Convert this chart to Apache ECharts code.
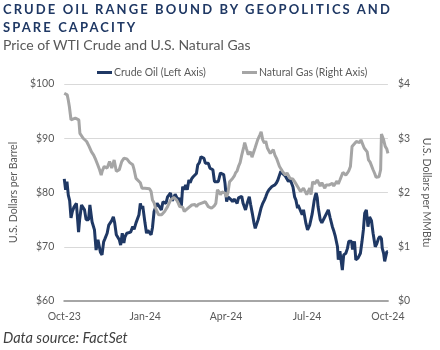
<!DOCTYPE html>
<html>
<head>
<meta charset="utf-8">
<script src="https://cdn.jsdelivr.net/npm/echarts@6/dist/echarts.min.js"></script>
<style>
  html, body { margin: 0; padding: 0; background: #fff; }
  #wrap { position: relative; width: 440px; height: 350px; overflow: hidden; font-family: Lato, "Open Sans", sans-serif; }
  #chart { position: absolute; left: 0; top: 0; width: 440px; height: 350px; }
  .title { position: absolute; left: 3px; top: 0; font-weight: 700; font-size: 13px; line-height: 18px; letter-spacing: 2.1px; color: #1f3864; }
  .sub { position: absolute; left: 3px; top: 36px; font-size: 14px; color: #595959; }
  .src { position: absolute; left: 3px; top: 329px; font-size: 14.5px; font-style: italic; color: #404040; }
</style>
</head>
<body>
<div id="wrap">
  <div id="chart"></div>
  <div class="title">CRUDE OIL RANGE BOUND BY GEOPOLITICS AND<br>SPARE CAPACITY</div>
  <div class="sub">Price of WTI Crude and U.S. Natural Gas</div>
  <div class="src">Data source: FactSet</div>
</div>
<script>
// x positions are months since Oct-23 (0 = Oct-23, 12 = Oct-24)
var tickLabels = ['Oct-23', 'Jan-24', 'Apr-24', 'Jul-24', 'Oct-24'];

var crudeMonths = [0, 0.05, 0.10, 0.15, 0.20, 0.25, 0.30, 0.36, 0.45, 0.53, 0.57, 0.64, 0.75, 0.81, 0.90, 0.95,
  1.03, 1.12, 1.18, 1.25, 1.31, 1.34, 1.40, 1.46, 1.51, 1.59, 1.65, 1.70, 1.76, 1.82, 1.87, 1.93, 1.98,
  2.04, 2.09, 2.15, 2.21, 2.25, 2.32, 2.39, 2.46, 2.54, 2.59, 2.66, 2.77, 2.82, 2.87, 2.91, 2.96, 2.99,
  3.05, 3.10, 3.16, 3.22, 3.27, 3.33, 3.38, 3.44, 3.50, 3.55, 3.60, 3.66, 3.77, 3.83, 3.89, 3.94,
  4.00, 4.06, 4.11, 4.17, 4.23, 4.28, 4.34, 4.39, 4.44, 4.50, 4.56, 4.62, 4.67, 4.72, 4.78, 4.84, 4.90, 4.95,
  5.01, 5.07, 5.12, 5.18, 5.23, 5.29, 5.34, 5.40, 5.46, 5.51, 5.57, 5.62, 5.71, 5.79, 5.85, 5.91, 5.96,
  6.02, 6.07, 6.13, 6.18, 6.24, 6.30, 6.35, 6.41, 6.46, 6.52, 6.58, 6.63, 6.72, 6.80, 6.86, 6.91, 6.97,
  7.03, 7.08, 7.14, 7.19, 7.25, 7.30, 7.36, 7.42, 7.47, 7.53, 7.59, 7.64, 7.70, 7.75, 7.81, 7.87, 7.92, 7.98,
  8.03, 8.09, 8.14, 8.20, 8.26, 8.31, 8.37, 8.43, 8.48, 8.54, 8.59, 8.65, 8.67, 8.74, 8.82, 8.87, 8.96,
  9.02, 9.04, 9.10, 9.19, 9.27, 9.31, 9.34, 9.38, 9.41, 9.49, 9.55, 9.64, 9.71, 9.79, 9.86, 9.94,
  10.00, 10.05, 10.13, 10.16, 10.22, 10.26, 10.31, 10.36, 10.44, 10.50, 10.55, 10.65, 10.69, 10.76, 10.81, 10.89, 10.98,
  11.04, 11.09, 11.14, 11.20, 11.26, 11.32, 11.39, 11.45, 11.53, 11.59, 11.65, 11.70, 11.76, 11.79, 11.84, 11.88, 11.92, 11.96, 12.00];

var crudePrice = [82.5, 80.5, 82.0, 79.5, 78.5, 75.3, 76.5, 77.3, 78.0, 72.7, 75.0, 77.7, 76.8, 75.0, 75.0, 77.7,
  74.6, 73.1, 69.4, 71.3, 71.2, 69.0, 68.5, 70.9, 71.5, 72.5, 74.0, 74.0, 74.8, 75.5, 74.4, 72.2, 72.5,
  71.3, 70.3, 72.5, 70.7, 71.8, 72.5, 72.3, 72.7, 73.7, 73.2, 74.4, 75.9, 78.0, 77.0, 77.5, 77.3, 74.5,
  72.5, 73.0, 72.7, 72.2, 73.5, 76.5, 77.2, 78.0, 78.0, 77.2, 76.8, 78.3, 78.0, 79.2, 79.2, 79.9,
  78.5, 79.0, 79.7, 79.5, 78.5, 79.0, 77.4, 81.1, 80.5, 81.4, 80.5, 82.3, 81.8, 82.5, 82.9, 83.2, 83.5, 85.1,
  85.5, 86.6, 86.9, 86.3, 85.4, 85.6, 85.4, 84.5, 84.6, 84.2, 82.0, 82.3, 82.0, 83.6, 83.9, 83.3, 81.7,
  78.3, 79.2, 79.0, 78.7, 78.3, 78.8, 78.6, 78.0, 79.0, 78.8, 79.3, 78.0, 76.8, 78.3, 79.2, 77.8, 76.2,
  74.5, 73.4, 73.6, 75.0, 76.2, 77.2, 78.0, 78.6, 79.2, 80.0, 80.5, 80.8, 81.1, 81.0, 81.4, 81.8, 82.3, 83.2,
  83.9, 83.5, 83.2, 83.0, 82.9, 82.0, 82.5, 82.6, 81.0, 79.2, 78.6, 77.1, 77.7, 77.5, 75.9, 76.8, 74.3,
  73.1, 73.4, 74.0, 76.0, 78.6, 79.5, 79.9, 79.0, 77.4, 75.0, 74.4, 75.3, 75.5, 76.8, 75.3, 73.7,
  72.8, 71.9, 70.0, 67.6, 69.2, 69.0, 65.7, 68.5, 68.8, 69.7, 71.0, 71.0, 69.5, 71.0, 67.6, 67.9, 68.8,
  71.0, 73.1, 76.2, 76.8, 73.7, 75.5, 74.8, 72.5, 70.0, 70.6, 71.5, 71.9, 71.5, 69.7, 68.8, 67.3, 67.3, 69.1, 69.1];

var gasMonths = [0, 0.02, 0.11, 0.15, 0.19, 0.25, 0.30, 0.41, 0.47, 0.54, 0.58, 0.70, 0.76, 0.83, 0.92,
  1.01, 1.09, 1.17, 1.24, 1.31, 1.37, 1.41, 1.48, 1.54, 1.59, 1.68, 1.76, 1.85, 1.93,
  2.04, 2.13, 2.21, 2.25, 2.32, 2.43, 2.54, 2.59, 2.66, 2.73, 2.82, 2.88, 2.93, 2.99,
  3.05, 3.16, 3.22, 3.27, 3.33, 3.38, 3.44, 3.50, 3.61, 3.66, 3.72, 3.77, 3.83, 3.89, 3.94,
  4.06, 4.11, 4.17, 4.23, 4.28, 4.39, 4.45, 4.50, 4.61, 4.67, 4.73, 4.78, 4.84, 4.90, 4.97,
  5.07, 5.14, 5.23, 5.29, 5.34, 5.46, 5.51, 5.57, 5.62, 5.68, 5.74, 5.79, 5.85, 5.91, 5.96,
  6.02, 6.07, 6.13, 6.18, 6.24, 6.30, 6.35, 6.41, 6.46, 6.52, 6.58, 6.66, 6.69, 6.76, 6.82, 6.86, 6.91, 6.96,
  7.08, 7.17, 7.25, 7.30, 7.36, 7.42, 7.47, 7.53, 7.59, 7.64, 7.75, 7.81, 7.87, 7.98,
  8.09, 8.20, 8.26, 8.37, 8.47, 8.54, 8.65, 8.71, 8.76, 8.82, 8.87, 8.99,
  9.04, 9.10, 9.15, 9.21, 9.28, 9.38, 9.44, 9.49, 9.55, 9.66, 9.71, 9.83, 9.88, 9.94, 9.99,
  10.11, 10.16, 10.22, 10.33, 10.39, 10.44, 10.50, 10.55, 10.61, 10.67, 10.72, 10.83, 10.89, 10.95,
  11.00, 11.12, 11.17, 11.23, 11.28, 11.34, 11.45, 11.51, 11.56, 11.62, 11.67, 11.73, 11.76, 11.79, 11.84, 11.90, 11.96, 12.00];

var gasPrice = [3.83, 3.80, 3.80, 3.70, 3.58, 3.34, 3.31, 3.37, 3.40, 3.34, 3.09, 3.00, 2.98, 2.94, 2.85,
  2.75, 2.69, 2.60, 2.51, 2.42, 2.32, 2.40, 2.48, 2.45, 2.45, 2.57, 2.45, 2.60, 2.39,
  2.42, 2.57, 2.63, 2.60, 2.62, 2.55, 2.51, 2.42, 2.26, 2.23, 2.18, 2.08, 2.07, 2.08,
  2.05, 2.07, 2.02, 1.86, 1.81, 1.72, 1.65, 1.59, 1.59, 1.62, 1.65, 1.68, 1.74, 1.74, 1.86,
  1.91, 1.88, 1.86, 1.80, 1.74, 1.73, 1.65, 1.68, 1.72, 1.75, 1.77, 1.80, 1.78, 1.74, 1.78,
  1.80, 1.82, 1.83, 1.86, 1.74, 1.71, 1.72, 1.76, 1.80, 2.05, 2.01, 1.96, 2.01, 2.01, 1.99,
  1.92, 2.00, 2.20, 2.18, 2.26, 2.30, 2.36, 2.40, 2.48, 2.55, 2.69, 2.85, 2.92, 2.80, 2.70, 2.72, 2.75, 2.65,
  2.83, 2.97, 3.06, 3.12, 2.97, 2.91, 2.95, 2.82, 2.85, 2.72, 2.79, 2.69, 2.63, 2.48,
  2.39, 2.32, 2.36, 2.26, 2.25, 2.20, 2.11, 2.08, 2.02, 2.05, 2.08, 1.96,
  1.98, 2.08, 1.96, 2.20, 2.16, 2.23, 2.23, 2.12, 2.18, 2.08, 2.14, 2.14, 2.14, 2.17, 2.12,
  2.21, 2.16, 2.23, 2.37, 2.35, 2.32, 2.36, 2.40, 2.48, 2.85, 2.83, 2.94, 2.91, 2.92,
  2.97, 2.82, 2.85, 2.75, 2.60, 2.56, 2.42, 2.35, 2.28, 2.26, 2.29, 2.42, 3.08, 3.09, 2.97, 2.85, 2.80, 2.72];

function pairs(xs, ys) {
  return xs.map(function (x, i) { return [x, ys[i]]; });
}

var chart = echarts.init(document.getElementById('chart'));
var txt = '#595959';
var option = {
  animation: false,
  textStyle: { fontFamily: 'Lato, "Open Sans", sans-serif' },
  grid: { left: 46, right: 37, top: 84, bottom: 49 },
  legend: [
    {
      data: ['Crude Oil (Left Axis)'], left: 92, top: 62,
      icon: 'rect', itemWidth: 15, itemHeight: 3,
      textStyle: { color: txt, fontSize: 10.5, padding: [0, 0, 0, -3] }
    },
    {
      data: ['Natural Gas (Right Axis)'], left: 237, top: 62,
      icon: 'rect', itemWidth: 15, itemHeight: 3,
      textStyle: { color: txt, fontSize: 10.5, padding: [0, 0, 0, -3] }
    }
  ],
  xAxis: {
    type: 'value', min: 0, max: 12, interval: 3,
    axisLine: { lineStyle: { color: '#a6a6a6', width: 2 } },
    axisTick: { show: false },
    splitLine: { show: false },
    axisLabel: {
      color: txt, fontSize: 10.5, margin: 10,
      formatter: function (v) { return tickLabels[Math.round(v / 3)]; }
    }
  },
  yAxis: [
    {
      type: 'value', min: 60, max: 100, interval: 10,
      name: 'U.S. Dollars per Barrel', nameLocation: 'middle', nameGap: 38,
      nameTextStyle: { color: txt, fontSize: 10.5 },
      axisLine: { show: false }, axisTick: { show: false },
      axisLabel: { color: txt, fontSize: 10.5, margin: 10, formatter: '${value}' },
      splitLine: { lineStyle: { color: '#d9d9d9', width: 1 } }
    },
    {
      type: 'value', min: 0, max: 4, interval: 1, position: 'right',
      name: 'U.S. Dollars per MMBtu', nameLocation: 'middle', nameGap: 31, nameRotate: -90,
      nameTextStyle: { color: txt, fontSize: 10.5 },
      axisLine: { show: false }, axisTick: { show: false },
      axisLabel: { color: txt, fontSize: 10.5, margin: 10, formatter: '${value}' },
      splitLine: { show: false }
    }
  ],
  series: [
    {
      name: 'Crude Oil (Left Axis)', type: 'line', yAxisIndex: 0,
      data: pairs(crudeMonths, crudePrice),
      showSymbol: false, color: '#1f3864',
      lineStyle: { width: 3, color: '#1f3864' }, z: 2
    },
    {
      name: 'Natural Gas (Right Axis)', type: 'line', yAxisIndex: 1,
      data: pairs(gasMonths, gasPrice),
      showSymbol: false, color: '#a5a5a5',
      lineStyle: { width: 3, color: '#a5a5a5' }, z: 3
    }
  ]
};
chart.setOption(option);
</script>
</body>
</html>
